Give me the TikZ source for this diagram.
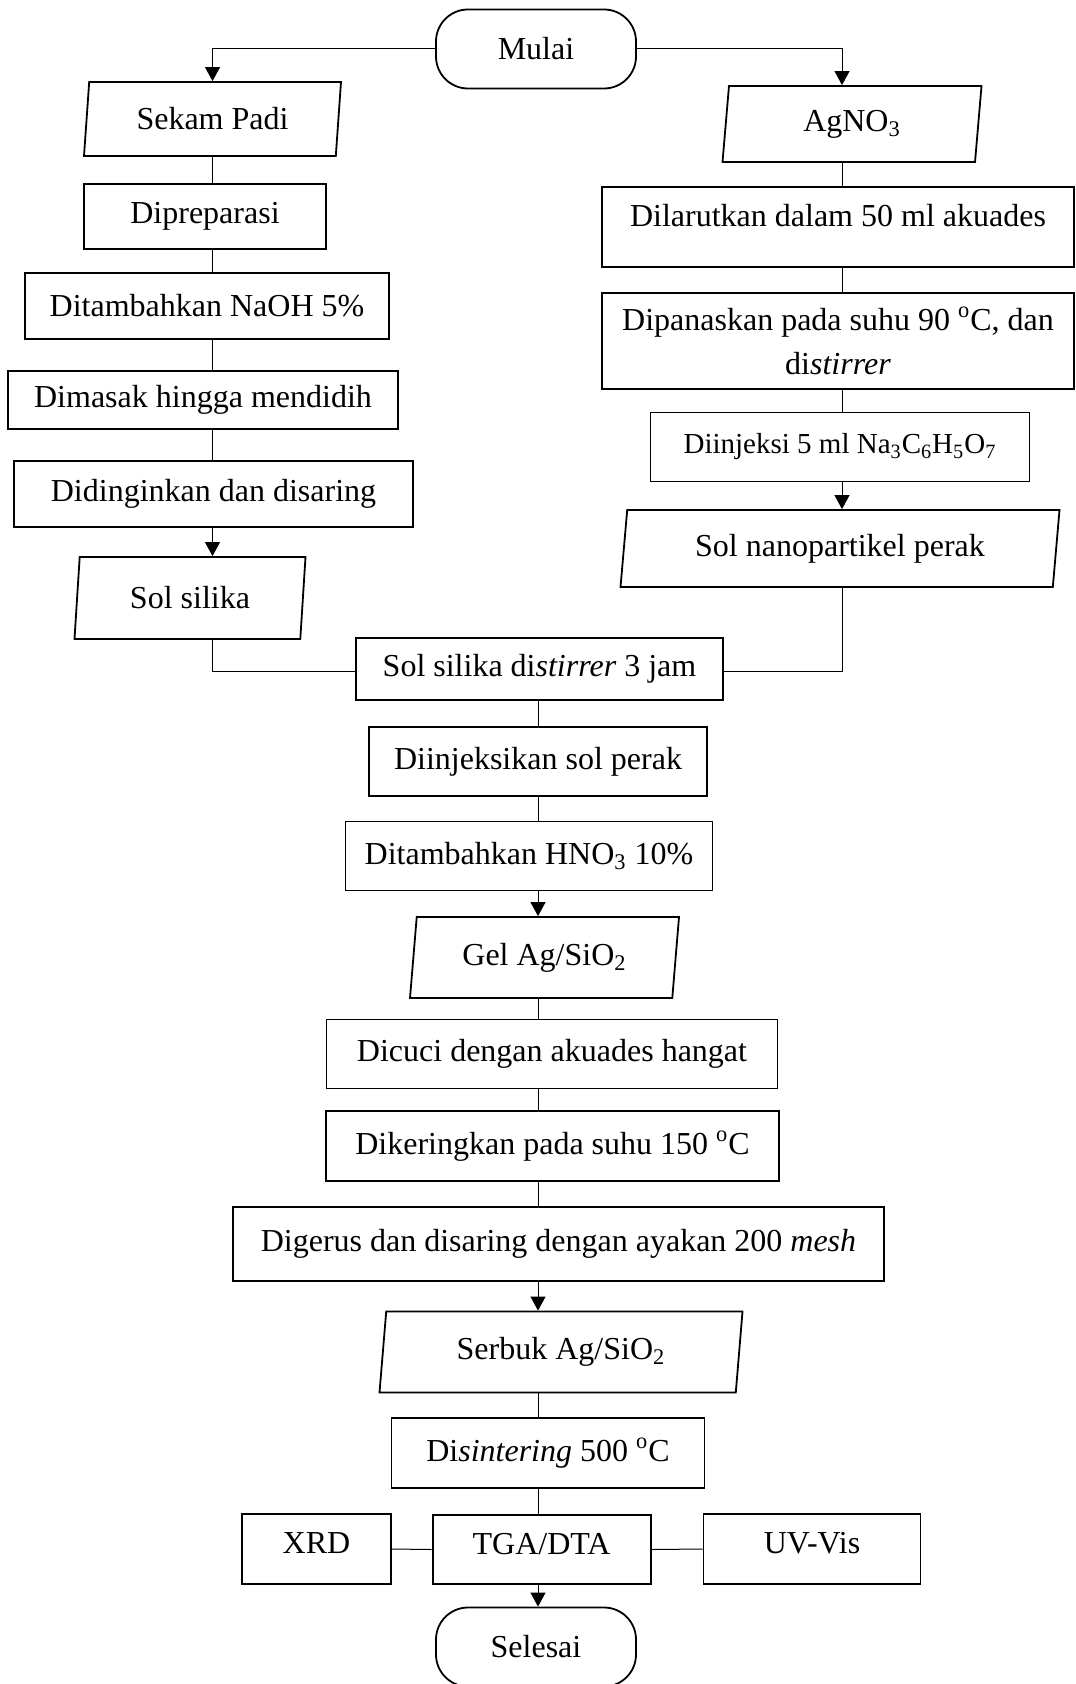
\documentclass[tikz,border=0pt]{standalone}
\usepackage{fontspec}
\setmainfont{Liberation Serif}
\usetikzlibrary{shapes.geometric,arrows.meta}

\begin{document}
\begin{tikzpicture}[x=0.5pt,y=-0.5pt,
  font=\fontsize{16}{19}\selectfont,
  terminal/.style={draw,line width=0.9pt,rounded corners=16pt,minimum width=100pt,minimum height=39.5pt,inner sep=0pt},
  proses/.style={draw,line width=0.9pt,inner sep=0pt,align=center},
  data/.style={draw,line width=0.9pt,trapezium,trapezium left angle=77,trapezium right angle=103,trapezium stretches body,inner sep=0pt},
  garis/.style={line width=0.5pt},
  panah/.style={line width=0.5pt,-{Triangle[length=7pt,width=7.5pt]}}]
  \useasboundingbox (0,0) rectangle (1075,1684);

  %Coordinates of the three vertical lines
  \coordinate (kiri) at (212.5,0);
  \coordinate (kanan) at (842,0);
  \coordinate (tengah) at (538,0);

  % Terminal Node
  \node [terminal] (mulai) at (536,49) {Mulai};
  % Left column
  \node [data,minimum width=128.5pt,minimum height=37pt] (sekam) at (212.5,119) {Sekam Padi};
  \node [proses,minimum width=121pt,minimum height=32.5pt] (dipreparasi) at (205,216.5) {Dipreparasi};
  \node [proses,minimum width=182pt,minimum height=33pt] (naoh) at (207,306) {Ditambahkan NaOH 5\%};
  \node [proses,minimum width=195pt,minimum height=29pt] (dimasak) at (203,400) {Dimasak hingga mendidih};
  \node [proses,minimum width=199.5pt,minimum height=33pt] (didinginkan) at (213.5,494) {Didinginkan dan disaring};
  \node [data,minimum width=115.5pt,minimum height=41pt] (solsilika) at (190,598) {Sol silika};
  % Right column
  \node [data,minimum width=129.5pt,minimum height=38pt] (agno) at (852,124) {AgNO\textsubscript{3}};
  \node [proses,minimum width=236pt,minimum height=40pt,text depth=12pt] (dilarutkan) at (838,227) {Dilarutkan dalam 50 ml akuades};
  \node [proses,minimum width=236pt,minimum height=48pt] (dipanaskan) at (838,341) {Dipanaskan pada suhu 90 \textsuperscript{o}C, dan\\[3pt]di\textit{stirrer}};
  \node [proses,minimum width=189.5pt,minimum height=34.5pt,font=\fontsize{14.5}{17}\selectfont] (diinjeksi) at (840,447) {Diinjeksi 5 ml Na\textsubscript{3}C\textsubscript{6}H\textsubscript{5}O\textsubscript{7}};
  \node [data,minimum width=219.5pt,minimum height=38.5pt] (solnano) at (840,548.5) {Sol nanopartikel perak};
  % Middle column
  \node [proses,minimum width=183.5pt,minimum height=31pt] (stirrer) at (539.5,669) {Sol silika di\textit{stirrer} 3 jam};
  \node [proses,minimum width=169pt,minimum height=34.5pt] (injeksiperak) at (538,761.5) {Diinjeksikan sol perak};
  \node [proses,minimum width=183.5pt,minimum height=34.5pt] (hno) at (529,856) {Ditambahkan HNO\textsubscript{3} 10\%};
  \node [data,minimum width=134.5pt,minimum height=40.5pt] (gel) at (544.5,957.5) {Gel Ag/SiO\textsubscript{2}};
  \node [proses,minimum width=225.5pt,minimum height=34.5pt] (dicuci) at (552,1054) {Dicuci dengan akuades hangat};
  \node [proses,minimum width=226.5pt,minimum height=35pt] (dikeringkan) at (552.5,1146) {Dikeringkan pada suhu 150 \textsuperscript{o}C};
  \node [proses,minimum width=325.5pt,minimum height=37pt] (digerus) at (558.5,1244) {Digerus dan disaring dengan ayakan 200 \textit{mesh}};
  \node [data,minimum width=181.5pt,minimum height=40.5pt] (serbuk) at (561,1352) {Serbuk Ag/SiO\textsubscript{2}};
  \node [proses,minimum width=156.5pt,minimum height=35pt] (sintering) at (548,1453) {Di\textit{sintering} 500 \textsuperscript{o}C};
  \node [proses,minimum width=74.5pt,minimum height=35pt,text depth=6pt] (xrd) at (316.5,1549) {XRD};
  \node [proses,minimum width=109pt,minimum height=34.5pt,text depth=6pt] (tga) at (541.6,1549.5) {TGA/DTA};
  \node [proses,minimum width=108.5pt,minimum height=35pt,text depth=6pt] (uvvis) at (812,1549) {UV-Vis};
  \node [terminal] (selesai) at (536,1647) {Selesai};

  %Connectors from start
  \draw [panah] (mulai.west) -| (sekam.north);
  \draw [panah] (mulai.east) -| (kanan |- agno.north);
  %Left column lines
  \draw [garis] (kiri |- sekam.south) -- (kiri |- dipreparasi.north);
  \draw [garis] (kiri |- dipreparasi.south) -- (kiri |- naoh.north);
  \draw [garis] (kiri |- naoh.south) -- (kiri |- dimasak.north);
  \draw [garis] (kiri |- dimasak.south) -- (kiri |- didinginkan.north);
  \draw [panah] (kiri |- didinginkan.south) -- (kiri |- solsilika.north);
  \draw [garis] (kiri |- solsilika.south) |- ([yshift=-1pt]stirrer.west);
  %Right column lines
  \draw [garis] (kanan |- agno.south) -- (kanan |- dilarutkan.north);
  \draw [garis] (kanan |- dilarutkan.south) -- (kanan |- dipanaskan.north);
  \draw [garis] (kanan |- dipanaskan.south) -- (kanan |- diinjeksi.north);
  \draw [panah] (kanan |- diinjeksi.south) -- (kanan |- solnano.north);
  \draw [garis] (kanan |- solnano.south) |- ([yshift=-1pt]stirrer.east);
  %Middle column lines
  \draw [garis] (tengah |- stirrer.south) -- (tengah |- injeksiperak.north);
  \draw [garis] (tengah |- injeksiperak.south) -- (tengah |- hno.north);
  \draw [panah] (tengah |- hno.south) -- (tengah |- gel.north);
  \draw [garis] (tengah |- gel.south) -- (tengah |- dicuci.north);
  \draw [garis] (tengah |- dicuci.south) -- (tengah |- dikeringkan.north);
  \draw [garis] (tengah |- dikeringkan.south) -- (tengah |- digerus.north);
  \draw [panah] (tengah |- digerus.south) -- (tengah |- serbuk.north);
  \draw [garis] (tengah |- serbuk.south) -- (tengah |- sintering.north);
  \draw [garis] (tengah |- sintering.south) -- (tengah |- tga.north);
  \draw [panah] (tengah |- tga.south) -- (tengah |- selesai.north);
  %Characterisation
  \draw [garis] (xrd.east) -- (tga.west);
  \draw [garis] (tga.east) -- (uvvis.west);

\end{tikzpicture}
\end{document}
